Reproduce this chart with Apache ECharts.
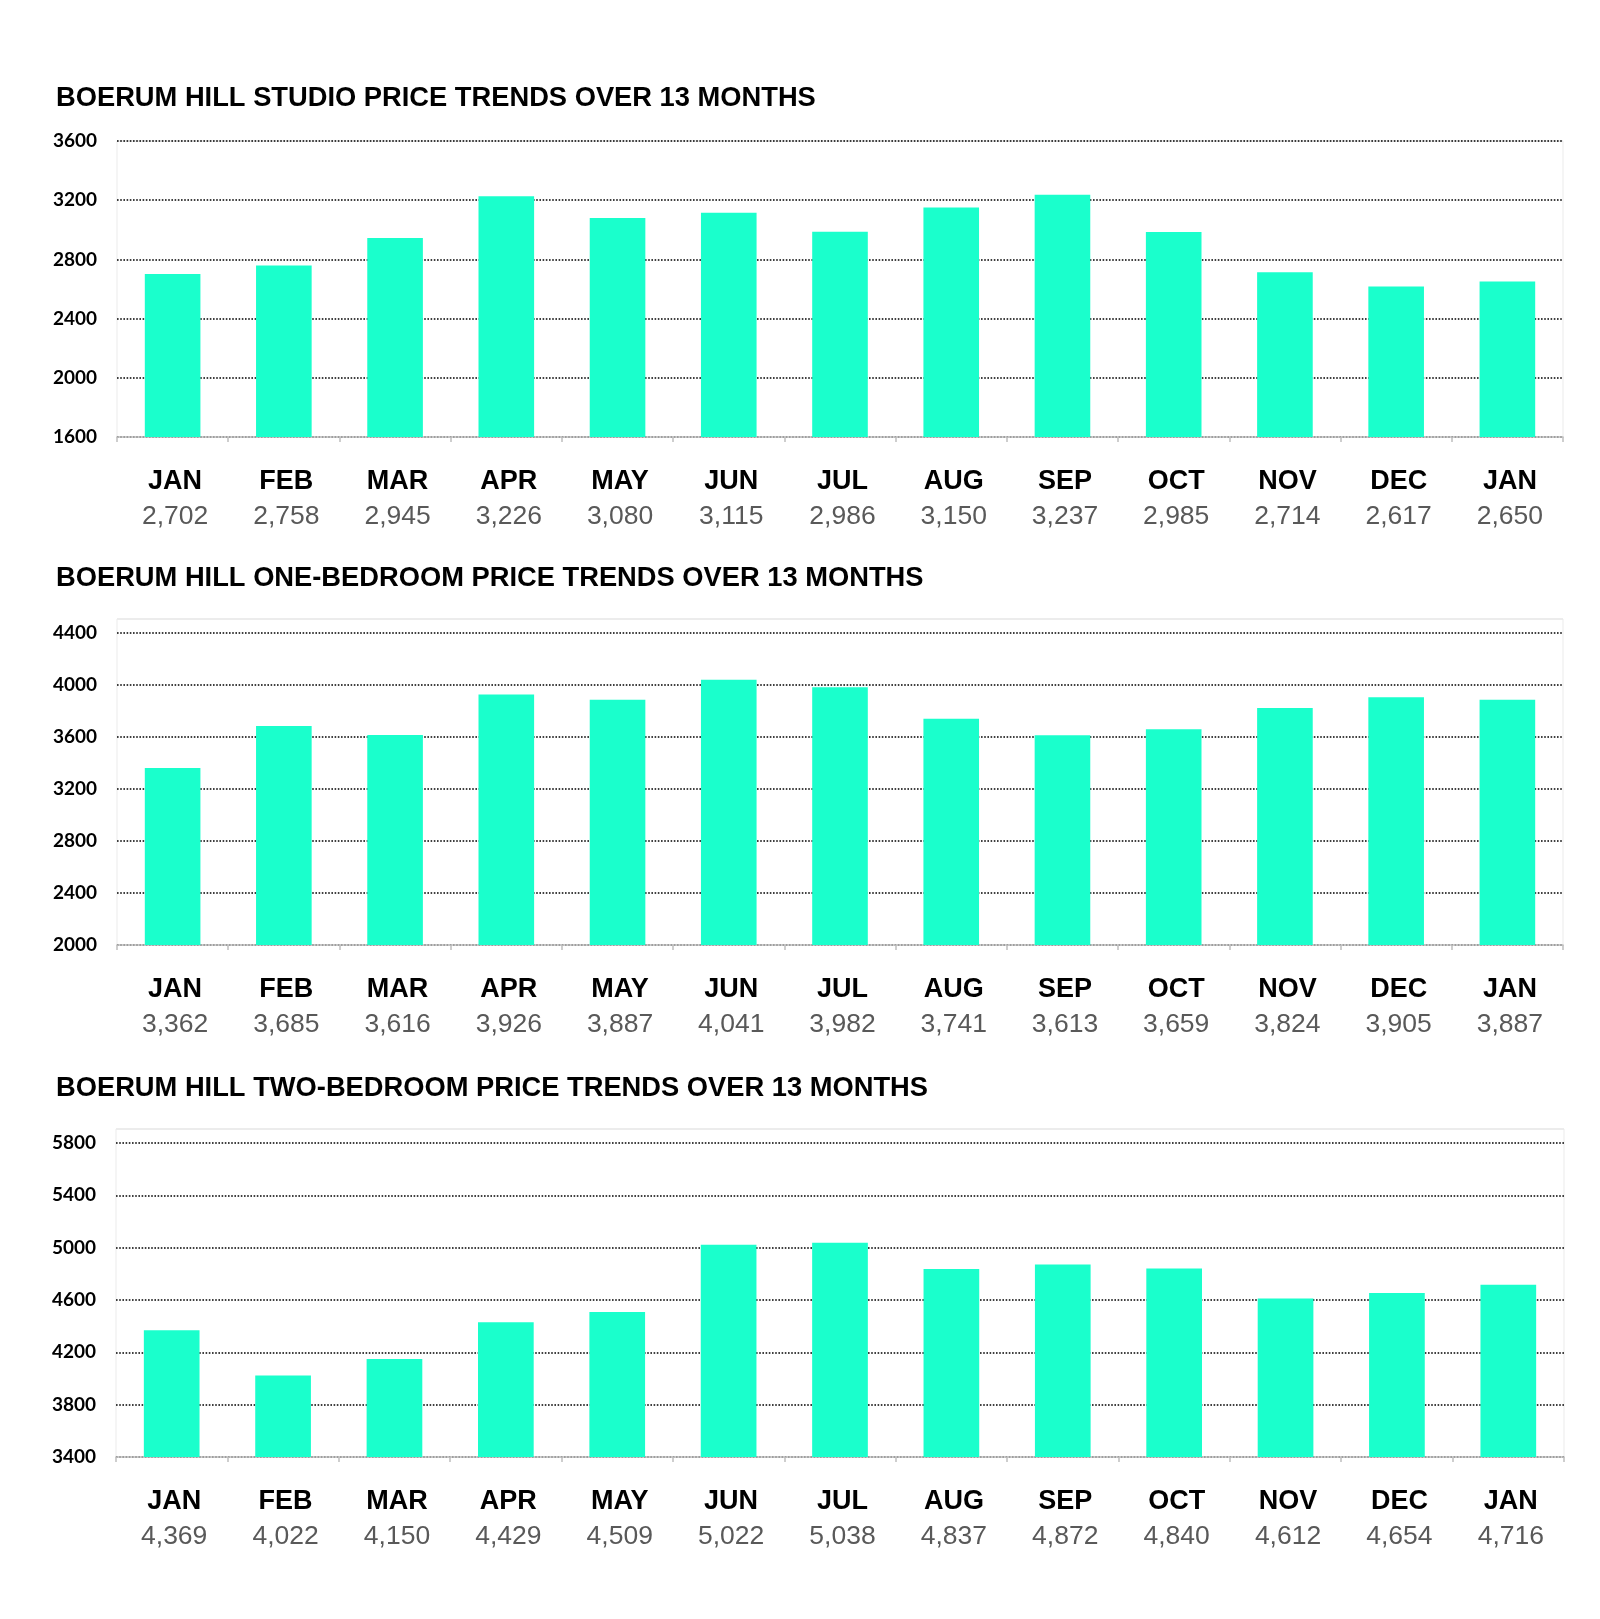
<!DOCTYPE html>
<html>
<head>
<meta charset="utf-8">
<script src="https://cdn.jsdelivr.net/npm/echarts@6/dist/echarts.min.js"></script>
<style>
  html, body { margin: 0; padding: 0; background: #fff; }
  #chart { width: 1600px; height: 1619px; }
</style>
</head>
<body>
<div id="chart"></div>
<script>
// ---- data ----
const months = ['JAN', 'FEB', 'MAR', 'APR', 'MAY', 'JUN', 'JUL', 'AUG', 'SEP', 'OCT', 'NOV', 'DEC', 'JAN'];
const studioPrices = [2702, 2758, 2945, 3226, 3080, 3115, 2986, 3150, 3237, 2985, 2714, 2617, 2650];
const oneBedPrices = [3362, 3685, 3616, 3926, 3887, 4041, 3982, 3741, 3613, 3659, 3824, 3905, 3887];
const twoBedPrices = [4369, 4022, 4150, 4429, 4509, 5022, 5038, 4837, 4872, 4840, 4612, 4654, 4716];
const titles = [
  'BOERUM HILL STUDIO PRICE TRENDS OVER 13 MONTHS',
  'BOERUM HILL ONE-BEDROOM PRICE TRENDS OVER 13 MONTHS',
  'BOERUM HILL TWO-BEDROOM PRICE TRENDS OVER 13 MONTHS'
];
const yMins = [1600, 2000, 3400];
const yMaxs = [3600, 4400, 5800];
const yStep = 400;

// ---- layout (style only) ----
const grids = [
  { left: 117, right: 37, top: 141, height: 296 },
  { left: 117, right: 37, top: 633, height: 312 },
  { left: 116, right: 36, top: 1143, height: 314 }
];
const frames = [
  { x: 117, y: 141, w: 1446, h: 296 },
  { x: 117, y: 619, w: 1446, h: 326 },
  { x: 116, y: 1129, w: 1448, h: 328 }
];
const titleTops = [85, 565, 1075];
const seriesData = [studioPrices, oneBedPrices, twoBedPrices];
const barColor = '#1AFFCC';

const fmt = n => n.toLocaleString('en-US');

const option = {
  animation: false,
  backgroundColor: '#ffffff',
  title: titles.map((t, i) => ({
    text: t,
    left: 56,
    top: titleTops[i],
    padding: 0,
    textStyle: { fontFamily: 'Liberation Sans, Arial, sans-serif', fontWeight: 'bold', fontSize: 27.3, color: '#000' }
  })),
  grid: grids.map(g => Object.assign({ outerBoundsMode: 'none', containLabel: false }, g)),
  xAxis: seriesData.map((d, i) => ({
    type: 'category',
    gridIndex: i,
    data: months,
    axisLine: { show: true, lineStyle: { color: '#BFBFBF', width: 1.5 } },
    axisTick: { show: true, length: 5, lineStyle: { color: '#BFBFBF', width: 1.5 } },
    axisLabel: {
      interval: 0,
      margin: 27,
      formatter: (v, idx) => '{m|' + v + '}\n{v|' + fmt(d[idx]) + '}',
      rich: {
        m: { fontFamily: 'Liberation Sans, Arial, sans-serif', fontWeight: 'bold', fontSize: 27, color: '#000', lineHeight: 35, padding: [0, 0, 0, 5] },
        v: { fontFamily: 'Liberation Sans, Arial, sans-serif', fontWeight: 'normal', fontSize: 26.5, color: '#595959', lineHeight: 35, padding: [0, 0, 0, 5] }
      }
    },
    splitLine: { show: false }
  })),
  yAxis: seriesData.map((d, i) => ({
    type: 'value',
    gridIndex: i,
    min: yMins[i],
    max: yMaxs[i],
    interval: yStep,
    axisLine: { show: false },
    axisTick: { show: false },
    axisLabel: {
      margin: 20,
      formatter: v => String(v),
      fontFamily: 'Lato, sans-serif',
      fontWeight: 'bold',
      fontSize: 19,
      color: '#000'
    },
    splitLine: { show: true, lineStyle: { type: [1.6, 1.6], color: '#000', width: 1.6 } }
  })),
  graphic: frames.map(f => ({
    type: 'group',
    silent: true,
    z: -1,
    children: [
      { type: 'line', shape: { x1: f.x, y1: f.y, x2: f.x + f.w, y2: f.y }, style: { stroke: '#D9D9D9', lineWidth: 1.2 } },
      { type: 'line', shape: { x1: f.x, y1: f.y, x2: f.x, y2: f.y + f.h }, style: { stroke: '#EBEBEB', lineWidth: 1 } },
      { type: 'line', shape: { x1: f.x + f.w, y1: f.y, x2: f.x + f.w, y2: f.y + f.h }, style: { stroke: '#EBEBEB', lineWidth: 1 } }
    ]
  })),
  series: seriesData.map((d, i) => ({
    type: 'bar',
    xAxisIndex: i,
    yAxisIndex: i,
    data: d,
    barCategoryGap: '50%',
    itemStyle: { color: barColor },
    z: 3
  }))
};

const chart = echarts.init(document.getElementById('chart'), null, { renderer: 'canvas' });
chart.setOption(option);
</script>
</body>
</html>
